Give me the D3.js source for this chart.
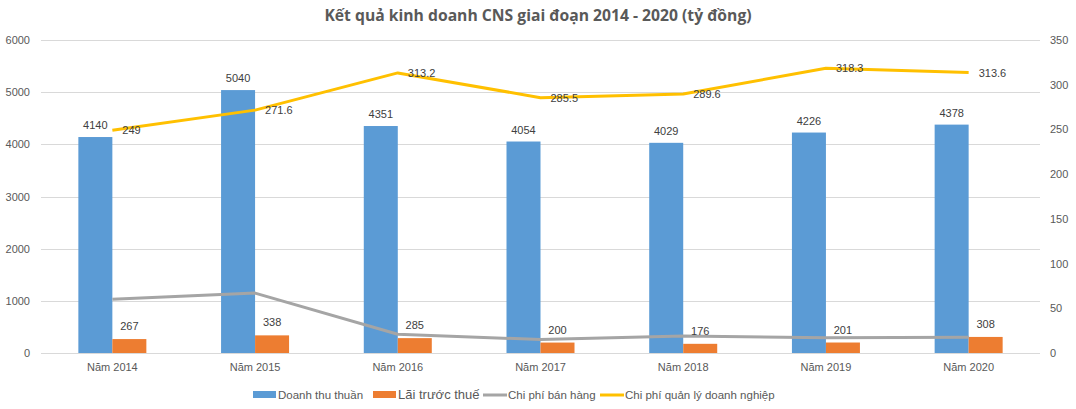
<!DOCTYPE html>
<html>
<head>
<meta charset="utf-8">
<script src="https://cdn.jsdelivr.net/npm/d3@7"></script>
<style>
  body { margin: 0; background: #fff; }
  svg { display: block; }
</style>
</head>
<body>
<svg id="chart" width="1076" height="409"></svg>
<script>
const categories = ["Năm 2014", "Năm 2015", "Năm 2016", "Năm 2017", "Năm 2018", "Năm 2019", "Năm 2020"];
const doanhThu = [4140, 5040, 4351, 4054, 4029, 4226, 4378];
const laiTruocThue = [267, 338, 285, 200, 176, 201, 308];
const chiPhiBanHang = [60, 67, 21, 15, 19, 17, 17.5];
const chiPhiQuanLy = [249, 271.6, 313.2, 285.5, 289.6, 318.3, 313.6];
const leftTicks = [0, 1000, 2000, 3000, 4000, 5000, 6000];
const rightTicks = [0, 50, 100, 150, 200, 250, 300, 350];
const seriesNames = ["Doanh thu thuần", "Lãi trước thuế", "Chi phí bán hàng", "Chi phí quản lý doanh nghiệp"];
const colors = ["#5b9bd5", "#ed7d31", "#a5a5a5", "#ffc000"];

const svg = d3.select("#chart");
const font = "'Liberation Sans', Arial, sans-serif";
const L = 41, R = 1040, T = 40, B = 353;

const x = d3.scaleBand().domain(categories).range([L, R]);
const yL = d3.scaleLinear().domain([0, 6000]).range([B, T]);
const yR = d3.scaleLinear().domain([0, 350]).range([B, T]);

// title
svg.append("text")
  .attr("x", 538).attr("y", 21)
  .attr("text-anchor", "middle")
  .attr("font-family", "'Open Sans', sans-serif")
  .attr("font-weight", "bold")
  .attr("font-size", 15.7)
  .attr("fill", "#595959")
  .text("Kết quả kinh doanh CNS giai đoạn 2014 - 2020 (tỷ đồng)");

// gridlines
svg.append("g").selectAll("line").data(leftTicks).join("line")
  .attr("x1", L).attr("x2", R)
  .attr("y1", d => Math.round(yL(d)) + 0.5).attr("y2", d => Math.round(yL(d)) + 0.5)
  .attr("stroke", "#d9d9d9").attr("stroke-width", 1);

// left axis
const gl = svg.append("g").attr("transform", `translate(${L},0)`)
  .call(d3.axisLeft(yL).tickValues(leftTicks).tickFormat(d3.format("d")).tickSize(0).tickPadding(11));
gl.select(".domain").remove();
gl.selectAll("text").attr("font-family", font).attr("font-size", 11).attr("fill", "#595959");

// right axis
const gr = svg.append("g").attr("transform", `translate(${R},0)`)
  .call(d3.axisRight(yR).tickValues(rightTicks).tickFormat(d3.format("d")).tickSize(0).tickPadding(10));
gr.select(".domain").remove();
gr.selectAll("text").attr("font-family", font).attr("font-size", 11).attr("fill", "#595959");

// bottom axis
const gb = svg.append("g").attr("transform", `translate(0,${B})`)
  .call(d3.axisBottom(x).tickSize(0).tickPadding(10));
gb.select(".domain").remove();
gb.selectAll("text").attr("font-family", font).attr("font-size", 11).attr("fill", "#595959");

const bw = 34;
// blue bars
svg.append("g").selectAll("rect").data(doanhThu).join("rect")
  .attr("x", (d, i) => x(categories[i]) + x.bandwidth() / 2 - bw)
  .attr("width", bw)
  .attr("y", d => yL(d)).attr("height", d => B - yL(d))
  .attr("fill", colors[0]);
// orange bars
svg.append("g").selectAll("rect").data(laiTruocThue).join("rect")
  .attr("x", (d, i) => x(categories[i]) + x.bandwidth() / 2)
  .attr("width", bw)
  .attr("y", d => yL(d)).attr("height", d => B - yL(d))
  .attr("fill", colors[1]);

const cx = i => x(categories[i]) + x.bandwidth() / 2;

// lines
const lineGen = d3.line().x((d, i) => cx(i)).y(d => yR(d));
svg.append("path").datum(chiPhiBanHang).attr("d", lineGen)
  .attr("fill", "none").attr("stroke", colors[2]).attr("stroke-width", 3).attr("stroke-linejoin", "round");
svg.append("path").datum(chiPhiQuanLy).attr("d", lineGen)
  .attr("fill", "none").attr("stroke", colors[3]).attr("stroke-width", 3).attr("stroke-linejoin", "round");

// labels
const lab = svg.append("g").attr("font-family", font).attr("font-size", 11).attr("fill", "#404040");
lab.selectAll(".lb").data(doanhThu).join("text")
  .attr("x", (d, i) => cx(i) - bw / 2).attr("y", d => yL(d) - 8)
  .attr("text-anchor", "middle").text(d => d);
lab.selectAll(".lo").data(laiTruocThue).join("text")
  .attr("x", (d, i) => cx(i) + bw / 2).attr("y", d => yL(d) - 9)
  .attr("text-anchor", "middle").text(d => d);
lab.selectAll(".ly").data(chiPhiQuanLy).join("text")
  .attr("x", (d, i) => cx(i) + 10).attr("y", d => yR(d) + 4)
  .attr("text-anchor", "start").text(d => d);

// legend
const legend = [
  {x: 253, type: "rect", fs: 11.5},
  {x: 373, type: "rect", fs: 13},
  {x: 483, type: "line", fs: 11.5},
  {x: 600, type: "line", fs: 11.5}
];
const lg = svg.append("g");
legend.forEach((d, i) => {
  if (d.type === "rect") {
    lg.append("rect").attr("x", d.x).attr("y", 391).attr("width", 23).attr("height", 7).attr("fill", colors[i]);
  } else {
    lg.append("line").attr("x1", d.x).attr("x2", d.x + 24).attr("y1", 395).attr("y2", 395)
      .attr("stroke", colors[i]).attr("stroke-width", 3);
  }
  lg.append("text").attr("x", d.x + 25).attr("y", 399)
    .attr("font-family", font).attr("font-size", d.fs).attr("fill", "#595959")
    .text(seriesNames[i]);
});
</script>
</body>
</html>
